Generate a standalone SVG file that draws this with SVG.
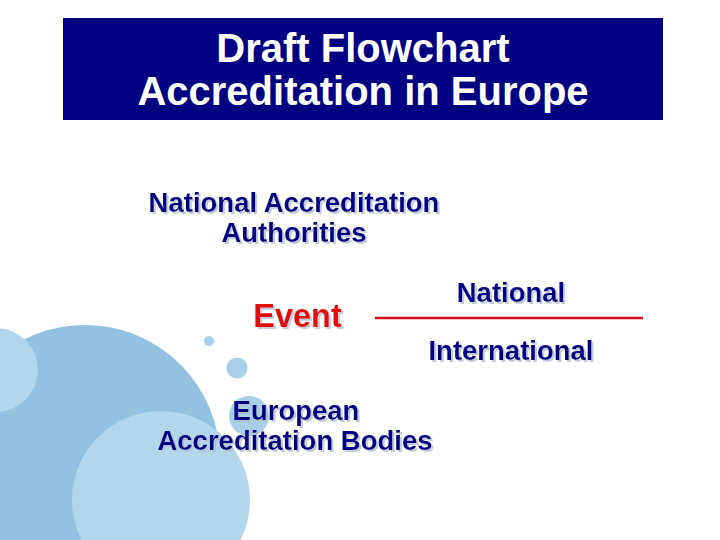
<svg xmlns="http://www.w3.org/2000/svg" width="720" height="540" viewBox="0 0 720 540">
<style>
.t{font-family:"Liberation Sans",Arial,sans-serif;font-weight:bold;text-anchor:middle}
.title{fill:#ffffff;font-size:40px}
.navy{fill:#000080;font-size:27.5px;filter:url(#sh)}
.red{fill:#e01010;font-size:32.5px;filter:url(#sh)}
.dark{fill:#93c2e1}
.light{fill:#b3d6eb}
.dot{fill:#a9cfe8}
</style>
<defs>
<filter id="sh" x="-5%" y="-20%" width="110%" height="150%">
<feDropShadow dx="2" dy="2" stdDeviation="0.6" flood-color="#b4bed4" flood-opacity="0.8"/>
</filter>
</defs>
<rect width="720" height="540" fill="#ffffff"/>
<g id="background">
<circle class="dark" cx="85" cy="460" r="135"/>
<circle class="light" cx="-4" cy="370" r="42"/>
<circle class="light" cx="161" cy="500" r="89"/>
<circle class="dot" cx="209" cy="341" r="5"/>
<circle class="dot" cx="237" cy="368" r="10.5"/>
<circle class="dot" cx="249" cy="416" r="20"/>
</g>
<g id="title">
<rect x="63" y="18" width="600" height="102" fill="#000080"/>
<text class="t title" x="363" y="62">Draft Flowchart</text>
<text class="t title" x="363" y="105">Accreditation in Europe</text>
</g>
<g id="naa">
<text class="t navy" x="294" y="212">National Accreditation</text>
<text class="t navy" x="294" y="242">Authorities</text>
</g>
<g id="event">
<text class="t red" x="297.5" y="327">Event</text>
</g>
<g id="national">
<text class="t navy" x="511" y="302">National</text>
</g>
<g id="international">
<text class="t navy" x="511" y="360">International</text>
</g>
<g id="eab">
<text class="t navy" x="296" y="420">European</text>
<text class="t navy" x="295" y="450">Accreditation Bodies</text>
</g>
<g id="connectors">
<line x1="375" y1="318" x2="643" y2="318" stroke="#d01020" stroke-width="2.5"/>
</g>
</svg>
